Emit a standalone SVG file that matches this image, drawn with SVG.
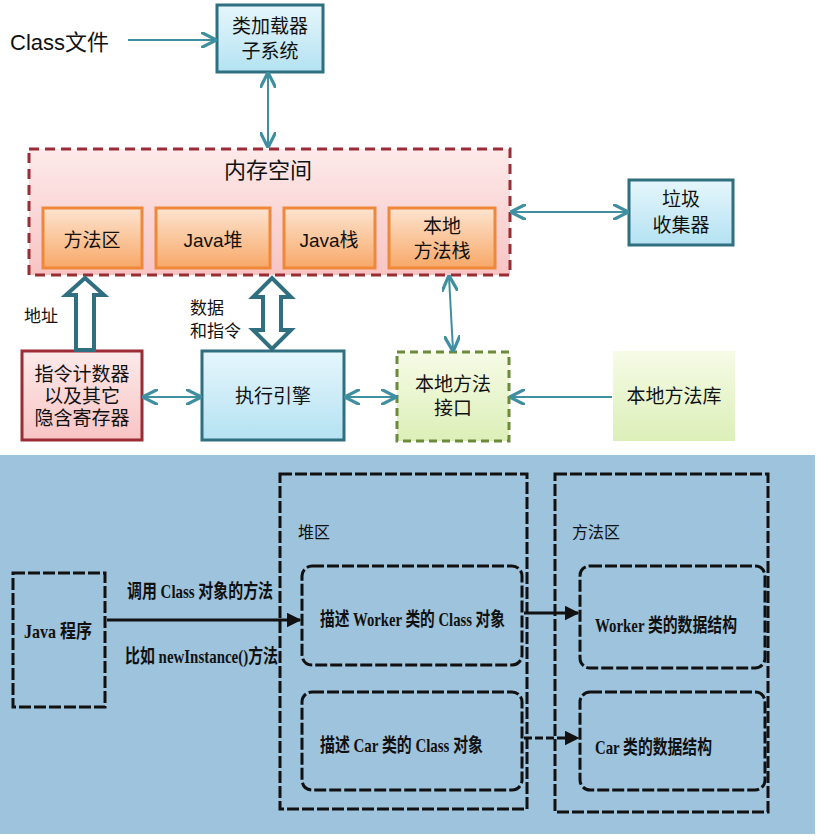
<svg xmlns="http://www.w3.org/2000/svg" width="831" height="840" viewBox="0 0 831 840">
<style>
text{font-family:"Liberation Sans","Noto Sans CJK SC",sans-serif;fill:#111;}
.t{font-size:19px;text-anchor:middle}
.b{font-family:"Liberation Serif","Noto Sans CJK SC",serif;font-size:17px;font-weight:bold;text-anchor:start}
.c{stroke:#3f8fa0;stroke-width:2;fill:none}
.h{stroke:#2f6f80;stroke-width:4;fill:#fff}
.sub{fill:url(#og);stroke:#f0883a;stroke-width:3}
.bl{stroke:#111;stroke-width:3;fill:none;stroke-dasharray:12 3}
</style>
<defs>
<marker id="a" viewBox="0 0 10 10" refX="9" refY="5" markerWidth="8" markerHeight="8" orient="auto-start-reverse"><path d="M0,0 L10,5 L0,10" fill="none" stroke="#3f8fa0" stroke-width="2"/></marker>
<marker id="k" viewBox="0 0 10 10" refX="9" refY="5" markerWidth="5" markerHeight="5" orient="auto"><path d="M0,0 L10,5 L0,10z" fill="#111"/></marker>
<linearGradient id="og" x1="0" y1="0" x2="0" y2="1"><stop offset="0" stop-color="#fde4d0"/><stop offset="1" stop-color="#f8a868"/></linearGradient>
<linearGradient id="pk" x1="0" y1="0" x2="0" y2="1"><stop offset="0" stop-color="#fdeaea"/><stop offset="1" stop-color="#f8c4c4"/></linearGradient>
<linearGradient id="bg" x1="0" y1="0" x2="0" y2="1"><stop offset="0" stop-color="#e6f6fc"/><stop offset="1" stop-color="#b4e2f2"/></linearGradient>
<linearGradient id="gg" x1="0" y1="0" x2="0" y2="1"><stop offset="0" stop-color="#f6fbe6"/><stop offset="1" stop-color="#dcefb8"/></linearGradient>
</defs>
<rect width="831" height="840" fill="#fff"/>
<text x="10" y="50" style="font-size:22px">Class文件</text>
<g id="loader"><rect x="217" y="5" width="106" height="67" fill="url(#bg)" stroke="#2f6f80" stroke-width="3"/><text class="t" x="270" y="33">类加载器</text><text class="t" x="270" y="58">子系统</text></g>
<g id="memory"><rect x="29" y="149" width="481" height="126" fill="url(#pk)" stroke="#9b2b35" stroke-width="3" stroke-dasharray="10 6"/><text x="268" y="178" style="font-size:22px;text-anchor:middle">内存空间</text></g>
<g id="m1"><rect class="sub" x="43" y="208" width="99" height="60"/><text class="t" x="92" y="247">方法区</text></g>
<g id="m2"><rect class="sub" x="156" y="208" width="114" height="60"/><text class="t" x="213" y="247">Java堆</text></g>
<g id="m3"><rect class="sub" x="284" y="208" width="91" height="60"/><text class="t" x="329" y="247">Java栈</text></g>
<g id="m4"><rect class="sub" x="389" y="208" width="106" height="60"/><text class="t" x="442" y="233">本地</text><text class="t" x="442" y="258">方法栈</text></g>
<g id="gc"><rect x="629" y="180" width="104" height="65" fill="url(#bg)" stroke="#2f6f80" stroke-width="3"/><text class="t" x="681" y="206">垃圾</text><text class="t" x="681" y="232">收集器</text></g>
<g id="pc"><rect x="22" y="351" width="120" height="89" fill="url(#pk)" stroke="#9b2b35" stroke-width="3"/><text class="t" x="82" y="381">指令计数器</text><text class="t" x="82" y="403">以及其它</text><text class="t" x="82" y="425">隐含寄存器</text></g>
<g id="engine"><rect x="202" y="351" width="142" height="89" fill="url(#bg)" stroke="#2f6f80" stroke-width="3"/><text class="t" x="273" y="403">执行引擎</text></g>
<g id="nif"><rect x="397" y="352" width="112" height="89" fill="url(#gg)" stroke="#6b8a3a" stroke-width="3" stroke-dasharray="8 5"/><text class="t" x="453" y="391">本地方法</text><text class="t" x="453" y="415">接口</text></g>
<g id="nlib"><rect x="613" y="351" width="122" height="90" fill="url(#gg)"/><text class="t" x="674" y="403">本地方法库</text></g>
<text x="24" y="322" style="font-size:17px">地址</text>
<text x="190" y="314" style="font-size:17px">数据</text>
<text x="190" y="337" style="font-size:17px">和指令</text>
<g id="connectors">
<line class="c" x1="128" y1="40" x2="215" y2="40" marker-end="url(#a)"/>
<line class="c" x1="268" y1="74" x2="268" y2="146" marker-start="url(#a)" marker-end="url(#a)"/>
<line class="c" x1="512" y1="212" x2="627" y2="212" marker-start="url(#a)" marker-end="url(#a)"/>
<line class="c" x1="449" y1="277" x2="453" y2="350" marker-start="url(#a)" marker-end="url(#a)"/>
<line class="c" x1="144" y1="397" x2="200" y2="397" marker-start="url(#a)" marker-end="url(#a)"/>
<line class="c" x1="346" y1="397" x2="395" y2="397" marker-start="url(#a)" marker-end="url(#a)"/>
<line class="c" x1="612" y1="397" x2="511" y2="397" marker-end="url(#a)"/>
<path class="h" d="M76,350 V295 H66 L85,278 L104,295 H94 V350 Z"/>
<path class="h" d="M263,330 H253 L272,349 L291,330 H281 V297 H291 L272,278 L253,297 H263 Z"/>
</g>
<rect x="0" y="455" width="815" height="379" fill="#9ec3dc"/>
<g id="heap"><rect class="bl" x="280" y="474" width="247" height="335"/><text x="298" y="538" style="font-family:'Noto Sans CJK SC',sans-serif;font-size:16px">堆区</text></g>
<g id="marea"><rect class="bl" x="555" y="474" width="213" height="338"/><text x="572" y="538" style="font-family:'Noto Sans CJK SC',sans-serif;font-size:16px">方法区</text></g>
<g id="jp"><rect class="bl" x="13" y="573" width="92" height="134"/><text class="b" x="24" y="638" textLength="68" lengthAdjust="spacingAndGlyphs" style="font-size:19px">Java 程序</text></g>
<g id="w1"><rect class="bl" x="302" y="566" width="220" height="99" rx="10"/><text class="b" x="320" y="626" textLength="185" lengthAdjust="spacingAndGlyphs" style="font-size:19px">描述 Worker 类的 Class 对象</text></g>
<g id="c1"><rect class="bl" x="302" y="692" width="220" height="98" rx="10"/><text class="b" x="320" y="752" textLength="163" lengthAdjust="spacingAndGlyphs" style="font-size:19px">描述 Car 类的 Class 对象</text></g>
<g id="w2"><rect class="bl" x="580" y="566" width="185" height="102" rx="10"/><text class="b" x="595" y="632" textLength="142" lengthAdjust="spacingAndGlyphs" style="font-size:19px">Worker 类的数据结构</text></g>
<g id="c2"><rect class="bl" x="580" y="692" width="185" height="98" rx="10"/><text class="b" x="595" y="754" textLength="117" lengthAdjust="spacingAndGlyphs" style="font-size:19px">Car 类的数据结构</text></g>
<text class="b" x="127" y="598" textLength="146" lengthAdjust="spacingAndGlyphs" style="font-size:19px">调用 Class 对象的方法</text>
<text class="b" x="125" y="663" textLength="153" lengthAdjust="spacingAndGlyphs" style="font-size:19px">比如 newInstance()方法</text>
<g id="connectors2">
<line x1="107" y1="620" x2="300" y2="620" stroke="#111" stroke-width="3" marker-end="url(#k)"/>
<line x1="524" y1="613" x2="578" y2="613" stroke="#111" stroke-width="3" marker-end="url(#k)"/>
<line x1="524" y1="738" x2="578" y2="738" stroke="#111" stroke-width="3" stroke-dasharray="8 3" marker-end="url(#k)"/>
</g>
</svg>
